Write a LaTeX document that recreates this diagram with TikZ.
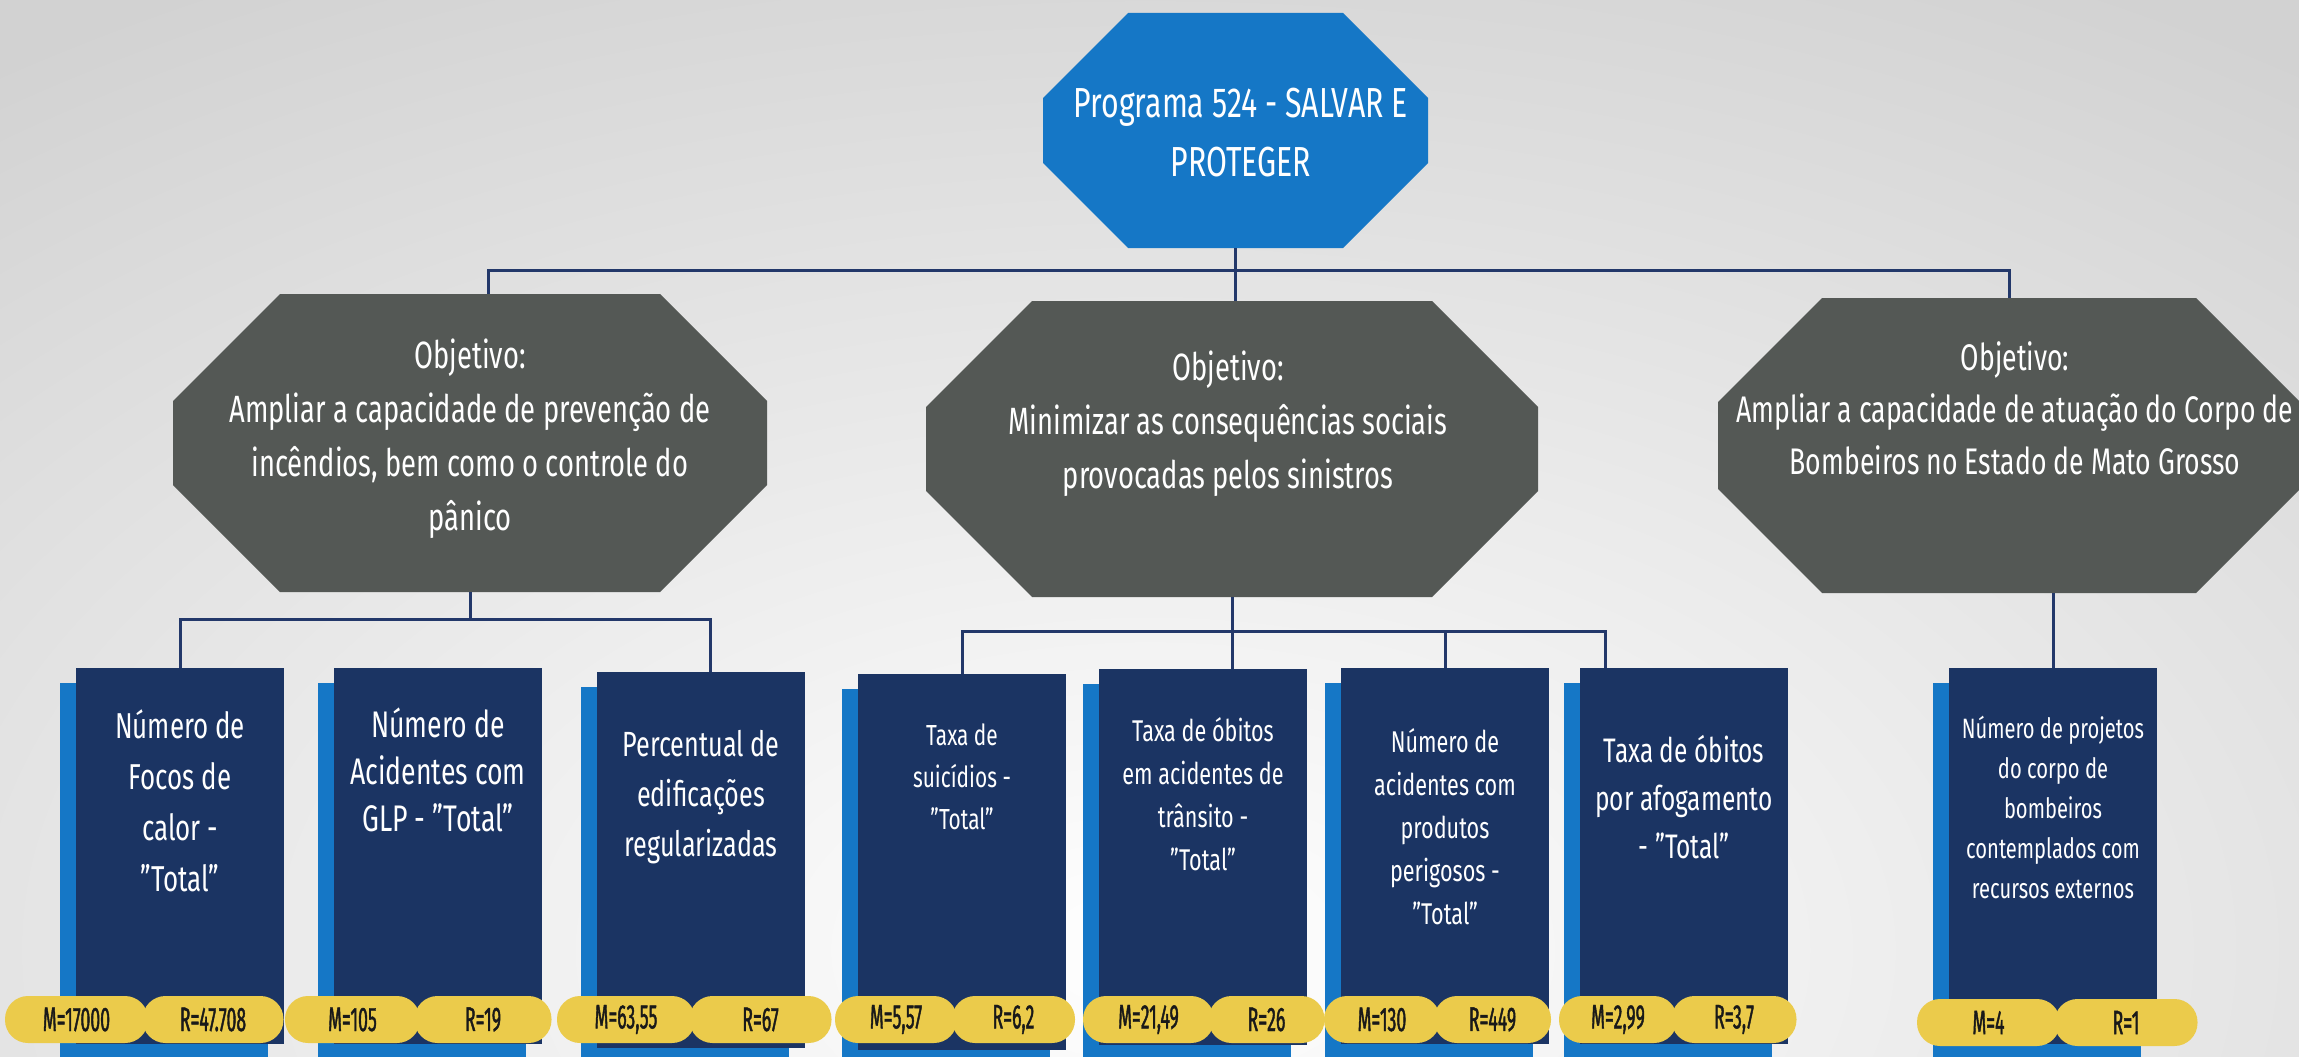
\documentclass[tikz,border=0pt]{standalone}
\usepackage{fontspec}
\setmainfont{Fira Sans}[FakeStretch=0.72]
\newfontfamily\pillfont{Fira Sans}[FakeStretch=0.52,FakeBold=1.2]
\usetikzlibrary{shadows}
\definecolor{progblue}{HTML}{1577C6}
\definecolor{objgrey}{HTML}{545855}
\definecolor{indnavy}{HTML}{1B3463}
\definecolor{linknavy}{HTML}{23386A}
\definecolor{pillyellow}{HTML}{EBCB4B}
\tikzset{
	octa/.style 2 args={shape=rectangle, inner sep=0pt, path picture={
		\fill[#1] ([xshift=#2pt]path picture bounding box.north west) -- ([xshift=-#2pt]path picture bounding box.north east)
		-- ([yshift=-#2pt]path picture bounding box.north east) -- ([yshift=#2pt]path picture bounding box.south east)
		-- ([xshift=-#2pt]path picture bounding box.south east) -- ([xshift=#2pt]path picture bounding box.south west)
		-- ([yshift=#2pt]path picture bounding box.south west) -- ([yshift=-#2pt]path picture bounding box.north west) -- cycle;}},
	octatext/.style={text=white, align=center, inner sep=0pt, font=\fontsize{38}{54}\selectfont},
	ind/.style={fill=indnavy, minimum width=208pt, minimum height=376pt, inner sep=0pt,
		general shadow={fill=progblue, shadow xshift=-16pt, shadow yshift=-15pt}},
	indtext/.style={text=white, align=center, inner sep=0pt},
	pill/.style={fill=pillyellow, rounded corners=23pt, minimum height=47pt, inner sep=0pt,
		text=black!90, font=\pillfont\fontsize{34}{34}\selectfont},
	link/.style={draw=linknavy, line width=3pt}
}
\begin{document}
\begin{tikzpicture}[x=1pt, y=-1pt]
	\useasboundingbox (0,0) rectangle (2299,1057);
	\begin{scope}
		\clip (0,0) rectangle (2299,1057);
		\shade[inner color=white, outer color=gray!35] (-750,-150) rectangle (3050,2050);
	\end{scope}

	% programa e objetivos
	\node[octa={progblue}{85}, minimum width=385pt, minimum height=235pt] (prog) at (1235.5,130.5) {};
	\node[octatext, font=\fontsize{42}{59}\selectfont] (progtxt) at (1241,132.5) {Programa 524 - SALVAR E\\PROTEGER};
	\node[octa={objgrey}{107}, minimum width=594pt, minimum height=298pt] (obj1) at (470,443) {};
	\node[octatext] (obj1txt) at (470,439) {Objetivo:\\Ampliar a capacidade de prevenção de\\incêndios, bem como o controle do\\pânico};
	\node[octa={objgrey}{106}, minimum width=612pt, minimum height=296pt] (obj2) at (1232,449) {};
	\node[octatext] (obj2txt) at (1228,424) {Objetivo:\\Minimizar as consequências sociais\\provocadas pelos sinistros};
	\node[octa={objgrey}{104}, minimum width=582pt, minimum height=295pt] (obj3) at (2009,445.5) {};
	\node[octatext, font=\fontsize{37}{52}\selectfont] (obj3txt) at (2015,408) {Objetivo:\\Ampliar a capacidade de atuação do Corpo de\\Bombeiros no Estado de Mato Grosso};

	% indicadores
	\node[ind] (ind1) at (180,856) {};
	\node[ind] (ind2) at (438,856) {};
	\node[ind] (ind3) at (701,860) {};
	\node[ind] (ind4) at (962,862) {};
	\node[ind] (ind5) at (1203,857) {};
	\node[ind] (ind6) at (1445,856) {};
	\node[ind] (ind7) at (1684,856) {};
	\node[ind] (ind8) at (2053,856) {};
	\node[indtext, font=\fontsize{36}{51}\selectfont] (ind1txt) at (180,801) {Número de\\Focos de\\calor -\\”Total”};
	\node[indtext, font=\fontsize{37}{47}\selectfont] (ind2txt) at (438,770) {Número de\\Acidentes com\\GLP - ”Total”};
	\node[indtext, font=\fontsize{35}{50}\selectfont] (ind3txt) at (701,797.5) {Percentual de\\edificações\\regularizadas};
	\node[indtext, font=\fontsize{29}{42}\selectfont] (ind4txt) at (962,776.5) {Taxa de\\suicídios -\\”Total”};
	\node[indtext, font=\fontsize{30}{43}\selectfont] (ind5txt) at (1203,794) {Taxa de óbitos\\em acidentes de\\trânsito -\\”Total”};
	\node[indtext, font=\fontsize{30}{43}\selectfont] (ind6txt) at (1445,827) {Número de\\acidentes com\\produtos\\perigosos -\\”Total”};
	\node[indtext, font=\fontsize{34}{48}\selectfont] (ind7txt) at (1684,797.5) {Taxa de óbitos\\por afogamento\\- ”Total”};
	\node[indtext, font=\fontsize{28}{40}\selectfont] (ind8txt) at (2053,807.5) {Número de projetos\\do corpo de\\bombeiros\\contemplados com\\recursos externos};

	% metas e resultados
	\node[pill, minimum width=143pt] (m1) at (76.5,1019.5) {M=17000};
	\node[pill, minimum width=141pt] (r1) at (213,1019.5) {R=47.708};
	\node[pill, minimum width=135pt] (m2) at (352.5,1019.5) {M=105};
	\node[pill, minimum width=137pt] (r2) at (483,1019.5) {R=19};
	\node[pill, minimum width=138pt] (m3) at (626,1019.5) {M=63,55};
	\node[pill, minimum width=142pt] (r3) at (760.5,1019.5) {R=67};
	\node[pill, minimum width=122pt] (m4) at (896,1019.5) {M=5,57};
	\node[pill, minimum width=123pt] (r4) at (1013.5,1019.5) {R=6,2};
	\node[pill, minimum width=131pt] (m5) at (1148.5,1019.5) {M=21,49};
	\node[pill, minimum width=116pt] (r5) at (1266.5,1019.5) {R=26};
	\node[pill, minimum width=116pt] (m6) at (1382,1019.5) {M=130};
	\node[pill, minimum width=117pt] (r6) at (1492.5,1019.5) {R=449};
	\node[pill, minimum width=118pt] (m7) at (1618,1019.5) {M=2,99};
	\node[pill, minimum width=125pt] (r7) at (1734,1019.5) {R=3,7};
	\node[pill, minimum width=143pt] (m8) at (1988.5,1022.5) {M=4};
	\node[pill, minimum width=143pt] (r8) at (2126,1022.5) {R=1};

	% ligacoes
	\coordinate (bus0) at (1238,270);
	\coordinate (bus1) at (466,619);
	\coordinate (bus2) at (1237,631);
	\draw[link] (prog.south) -- (prog.south |- obj2.north);
	\draw[link] ([xshift=18pt]obj1.north) |- (bus0) -| (obj3.north);
	\draw[link] (obj1.south) -- (obj1.south |- bus1);
	\draw[link] (ind1.north) |- ([xshift=9pt]ind3.north |- bus1) -- ([xshift=9pt]ind3.north);
	\draw[link] (obj2.south) -- (obj2.south |- ind5.north);
	\draw[link] (ind4.north) |- ([xshift=-79pt]ind7.north |- bus2) -- ([xshift=-79pt]ind7.north);
	\draw[link] (ind6.north) -- (ind6.north |- bus2);
	\draw[link] (ind8.north) -- (ind8.north |- obj3.south);
\end{tikzpicture}
\end{document}
